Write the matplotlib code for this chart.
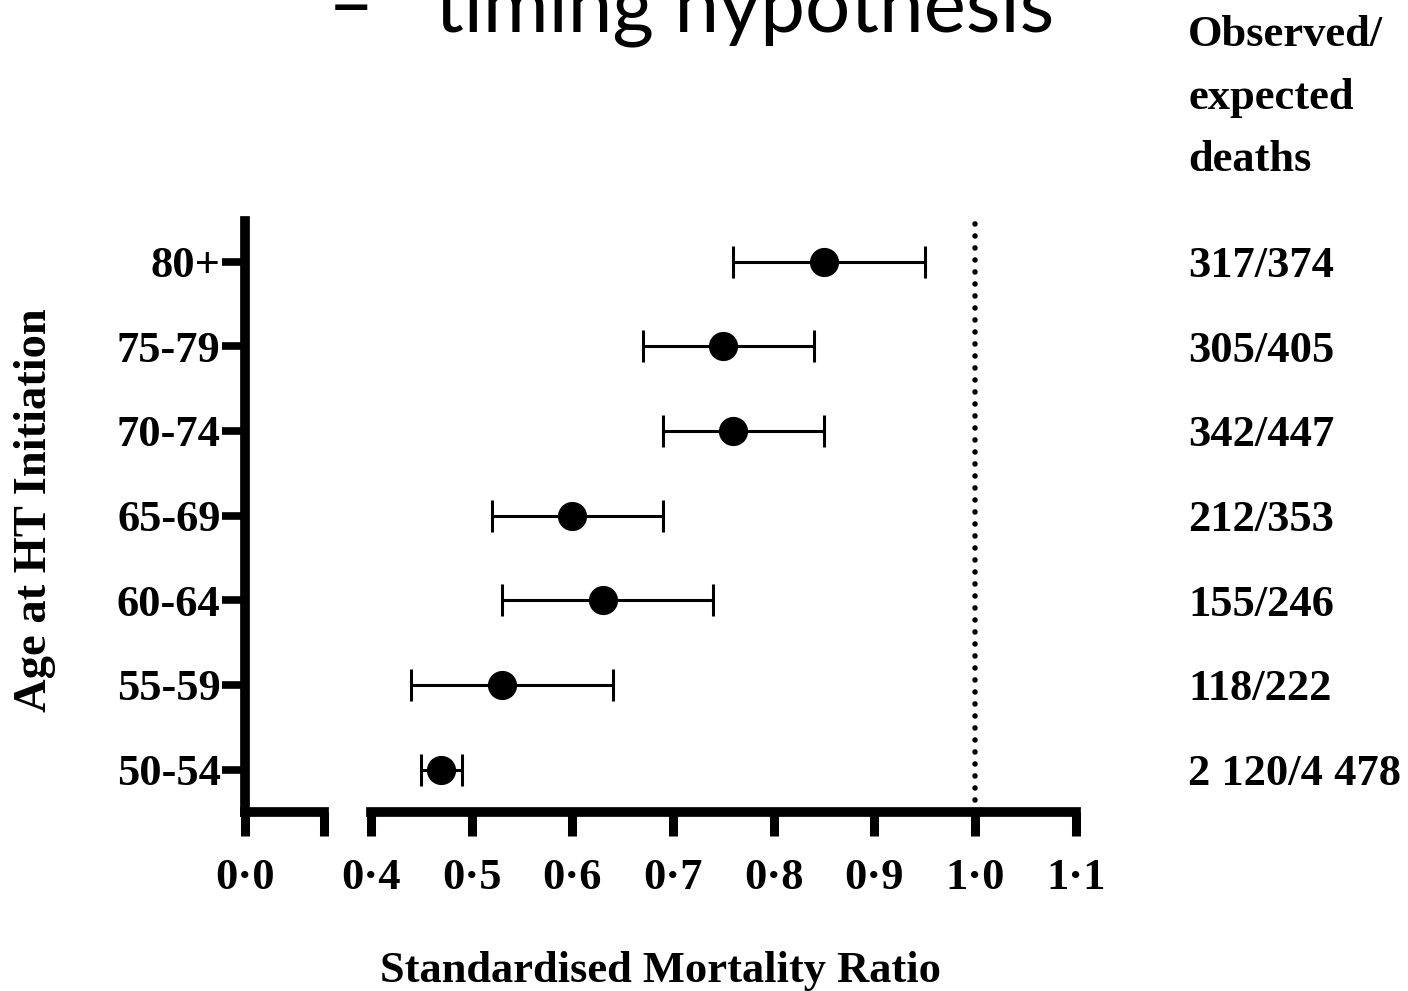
import matplotlib
matplotlib.use('Agg')
import matplotlib.pyplot as plt
from matplotlib.transforms import blended_transform_factory

# SMR by age at HT initiation
age_groups = ['50-54', '55-59', '60-64', '65-69', '70-74', '75-79', '80+']
smr = [0.47, 0.53, 0.63, 0.60, 0.76, 0.75, 0.85]
ci_low = [0.45, 0.44, 0.53, 0.52, 0.69, 0.67, 0.76]
ci_high = [0.49, 0.64, 0.74, 0.69, 0.85, 0.84, 0.95]
obs_exp = ['2 120/4 478', '118/222', '155/246', '212/353', '342/447', '305/405', '317/374']

left_ticks = [0.0]
left_labels = ['0·0']
right_ticks = [0.4, 0.5, 0.6, 0.7, 0.8, 0.9, 1.0, 1.1]
right_labels = ['0·4', '0·5', '0·6', '0·7', '0·8', '0·9', '1·0', '1·1']
ref_line = 1.0
header_lines = ['Observed/', 'expected', 'deaths']

plt.rcParams['font.family'] = ['Liberation Serif', 'DejaVu Serif']
plt.rcParams['font.weight'] = 'bold'
plt.rcParams['font.size'] = 32

W, H = 1408, 991
fig = plt.figure(figsize=(W / 100, H / 100), dpi=100)

bottom = 1 - 812 / H
height = (812 - 221) / H
break_end = 0.078   # where the first axis segment stops
ax_l = fig.add_axes([245 / W, bottom, 78.5 / W, height])
ax_r = fig.add_axes([371 / W, bottom, 704.7 / W, height])

ypos = list(range(len(age_groups)))
xerr = [[s - lo for s, lo in zip(smr, ci_low)], [hi - s for s, hi in zip(smr, ci_high)]]

ax_r.errorbar(smr, ypos, xerr=xerr, fmt='o', color='black', ms=20,
              elinewidth=2.2, capsize=11.5, capthick=2.2, clip_on=False, zorder=3)
ax_r.axvline(ref_line, color='black', lw=4, ls=(0, (0.01, 2.15)),
             dash_capstyle='round', zorder=2)

for ax in (ax_l, ax_r):
    ax.set_ylim(-0.5, 6.48)
    ax.spines['top'].set_visible(False)
    ax.spines['right'].set_visible(False)
    ax.spines['bottom'].set_linewidth(7)
    ax.tick_params(axis='x', which='major', direction='out', length=17, width=6.5, pad=16)
    ax.tick_params(axis='x', which='minor', direction='in', length=9, width=6.5)

ax_l.set_xlim(0, break_end)
ax_l.set_xticks(left_ticks + [break_end])
ax_l.set_xticklabels(left_labels + [''])
ax_l.set_xticks([break_end], minor=True)
ax_l.spines['left'].set_linewidth(7)
ax_l.set_yticks(ypos)
ax_l.set_yticklabels(age_groups)
ax_l.tick_params(axis='y', direction='out', length=16.5, width=5.5, pad=1)

ax_r.set_xlim(right_ticks[0], right_ticks[-1])
ax_r.set_xticks(right_ticks)
ax_r.set_xticklabels(right_labels)
ax_r.set_xticks([right_ticks[0]], minor=True)
ax_r.spines['left'].set_visible(False)
ax_r.set_yticks([])

# observed / expected column
trans = blended_transform_factory(fig.transFigure, ax_r.transData)
for y, txt in zip(ypos, obs_exp):
    fig.text(1188 / W, y, txt, transform=trans, va='center_baseline', ha='left')
fig.text(1188 / W, 1 - 15 / H, '\n'.join(header_lines), va='top', ha='left', linespacing=1.73)

fig.text(35 / W, 1 - 510 / H, 'Age at HT Initiation', rotation=90, va='center', ha='center',
         fontsize=33.5)
fig.text(660 / W, 1 - 982 / H, 'Standardised Mortality Ratio', va='baseline', ha='center')

# slide title, cut off at the top edge as in the original slide
fig.text(328 / W, 1 - 31 / H, '–', va='baseline', ha='left',
         family='Lato', fontweight='normal', fontsize=57.5)
fig.text(435 / W, 1 - 31 / H, 'timing hypothesis', va='baseline', ha='left',
         family='Lato', fontweight='normal', fontsize=57.5)

fig.savefig('out.png', dpi=100)
